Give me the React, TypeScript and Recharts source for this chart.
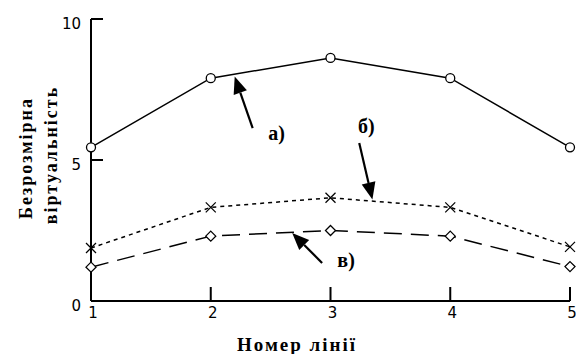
import React from "react";
import { LineChart, Line, XAxis, YAxis, ReferenceLine, ReferenceDot } from "recharts";

// номери ліній та значення безрозмірної віртуальності
const lineNumbers = [1, 2, 3, 4, 5];
const seriesA = [5.45, 7.9, 8.62, 7.9, 5.45];
const seriesB = [1.88, 3.32, 3.66, 3.32, 1.92];
const seriesC = [1.2, 2.3, 2.5, 2.3, 1.22];

const xTicks = [1, 2, 3, 4, 5];
const yTicks = [0, 5, 10];

// стрілки-підписи: [хвіст x, хвіст y, вістря x, вістря y]
const arrowA = [2.35, 6.13, 2.2, 7.96];
const arrowB = [3.24, 5.6, 3.35, 3.6];
const arrowC = [2.93, 1.35, 2.68, 2.41];
const labelA = { text: "а)", x: 2.55, y: 5.96 };
const labelB = { text: "б)", x: 3.3, y: 6.2 };
const labelC = { text: "в)", x: 3.13, y: 1.45 };

const data = lineNumbers.map((n, i) => ({
  n,
  a: seriesA[i],
  b: seriesB[i],
  c: seriesC[i],
}));

const tickFont = "DejaVu Sans";
const titleFont = "Liberation Serif";

// підпис і внутрішня засічка осі X
function XTick(props: any) {
  const { x, y, payload } = props;
  return (
    <g>
      <rect x={x - 1} y={y - 14} width={2} height={14} fill="#000" />
      <text x={x + 2} y={y + 17} textAnchor="middle" fill="#000" fontSize={15} fontFamily={tickFont}>
        {payload.value}
      </text>
    </g>
  );
}

function YTick(props: any) {
  const { x, y, payload } = props;
  return (
    <text x={x - 10} y={y + 10} textAnchor="end" fill="#000" fontSize={15} fontFamily={tickFont}>
      {payload.value}
    </text>
  );
}

function CircleDot(props: any) {
  const { cx, cy } = props;
  return <circle cx={cx} cy={cy} r={4.5} fill="#fff" stroke="#000" strokeWidth={1.3} />;
}

function CrossDot(props: any) {
  const { cx, cy } = props;
  const s = 5;
  return (
    <g stroke="#000" strokeWidth={1.3}>
      <line x1={cx - s} y1={cy - s} x2={cx + s} y2={cy + s} />
      <line x1={cx - s} y1={cy + s} x2={cx + s} y2={cy - s} />
    </g>
  );
}

function DiamondDot(props: any) {
  const { cx, cy } = props;
  const s = 5;
  return (
    <polygon
      points={`${cx},${cy - s} ${cx + s},${cy} ${cx},${cy + s} ${cx - s},${cy}`}
      fill="#fff"
      stroke="#000"
      strokeWidth={1.3}
    />
  );
}

function Arrow(props: any) {
  const { x1, y1, x2, y2 } = props;
  const ang = Math.atan2(y2 - y1, x2 - x1);
  const len = 17;
  const half = 7;
  const bx = x2 - len * Math.cos(ang);
  const by = y2 - len * Math.sin(ang);
  const px = -Math.sin(ang) * half;
  const py = Math.cos(ang) * half;
  return (
    <g>
      <line x1={x1} y1={y1} x2={bx} y2={by} stroke="#000" strokeWidth={2.2} />
      <polygon points={`${x2},${y2} ${bx + px},${by + py} ${bx - px},${by - py}`} fill="#000" />
    </g>
  );
}

// внутрішня засічка осі Y
function TickMark(props: any) {
  const { x1, y1, x2, y2 } = props;
  return <line x1={x1} y1={y1} x2={x2} y2={y2} stroke="#000" strokeWidth={2} />;
}

function labelShape(text: string) {
  return (props: any) => (
    <text
      x={props.cx}
      y={props.cy + 7}
      textAnchor="middle"
      fill="#000"
      fontSize={20}
      fontWeight="bold"
      fontFamily={titleFont}
    >
      {text}
    </text>
  );
}

function arrowSegment(a: number[]) {
  return [
    { x: a[0], y: a[1] },
    { x: a[2], y: a[3] },
  ];
}

const titleStyle = { fontWeight: "bold" as const, fontFamily: titleFont, letterSpacing: 2 };

export default function App() {
  return (
    <div style={{ position: "absolute", left: 0, top: 0, width: 576, height: 354, background: "#fff" }}>
      <LineChart width={576} height={354} data={data} margin={{ top: 19, right: 6, bottom: 0, left: 0 }}>
        <XAxis
          dataKey="n"
          type="number"
          domain={[1, 5]}
          ticks={xTicks}
          height={53}
          tickSize={0}
          tickMargin={0}
          tickLine={false}
          axisLine={{ stroke: "#000", strokeWidth: 2 }}
          tick={<XTick />}
          interval={0}
        />
        <YAxis
          type="number"
          domain={[0, 10]}
          ticks={yTicks}
          width={91}
          tickSize={0}
          tickMargin={0}
          tickLine={false}
          axisLine={{ stroke: "#000", strokeWidth: 2 }}
          tick={<YTick />}
          interval={0}
        />
        {yTicks
          .filter((t) => t > 0)
          .map((t) => (
            <ReferenceLine
              key={`yt${t}`}
              segment={[
                { x: 1, y: t },
                { x: 1.1, y: t },
              ]}
              ifOverflow="visible"
              shape={<TickMark />}
            />
          ))}
        <Line
          dataKey="a"
          stroke="#000"
          strokeWidth={1.5}
          dot={<CircleDot />}
          activeDot={false}
          isAnimationActive={false}
        />
        <Line
          dataKey="b"
          stroke="#000"
          strokeWidth={1.5}
          strokeDasharray="4 4"
          dot={<CrossDot />}
          activeDot={false}
          isAnimationActive={false}
        />
        <Line
          dataKey="c"
          stroke="#000"
          strokeWidth={1.5}
          strokeDasharray="18 9"
          dot={<DiamondDot />}
          activeDot={false}
          isAnimationActive={false}
        />
        <ReferenceLine segment={arrowSegment(arrowA)} shape={<Arrow />} />
        <ReferenceLine segment={arrowSegment(arrowB)} shape={<Arrow />} />
        <ReferenceLine segment={arrowSegment(arrowC)} shape={<Arrow />} />
        <ReferenceDot x={labelA.x} y={labelA.y} r={0} shape={labelShape(labelA.text)} />
        <ReferenceDot x={labelB.x} y={labelB.y} r={0} shape={labelShape(labelB.text)} />
        <ReferenceDot x={labelC.x} y={labelC.y} r={0} shape={labelShape(labelC.text)} />
        <text x={297} y={351} textAnchor="middle" fill="#000" fontSize={19} style={titleStyle}>
          Номер лінії
        </text>
        <text transform="translate(32,158) rotate(-90)" textAnchor="middle" fill="#000" fontSize={18} style={titleStyle}>
          Безрозмірна
        </text>
        <text transform="translate(57,155) rotate(-90)" textAnchor="middle" fill="#000" fontSize={18} style={titleStyle}>
          віртуальність
        </text>
      </LineChart>
    </div>
  );
}
